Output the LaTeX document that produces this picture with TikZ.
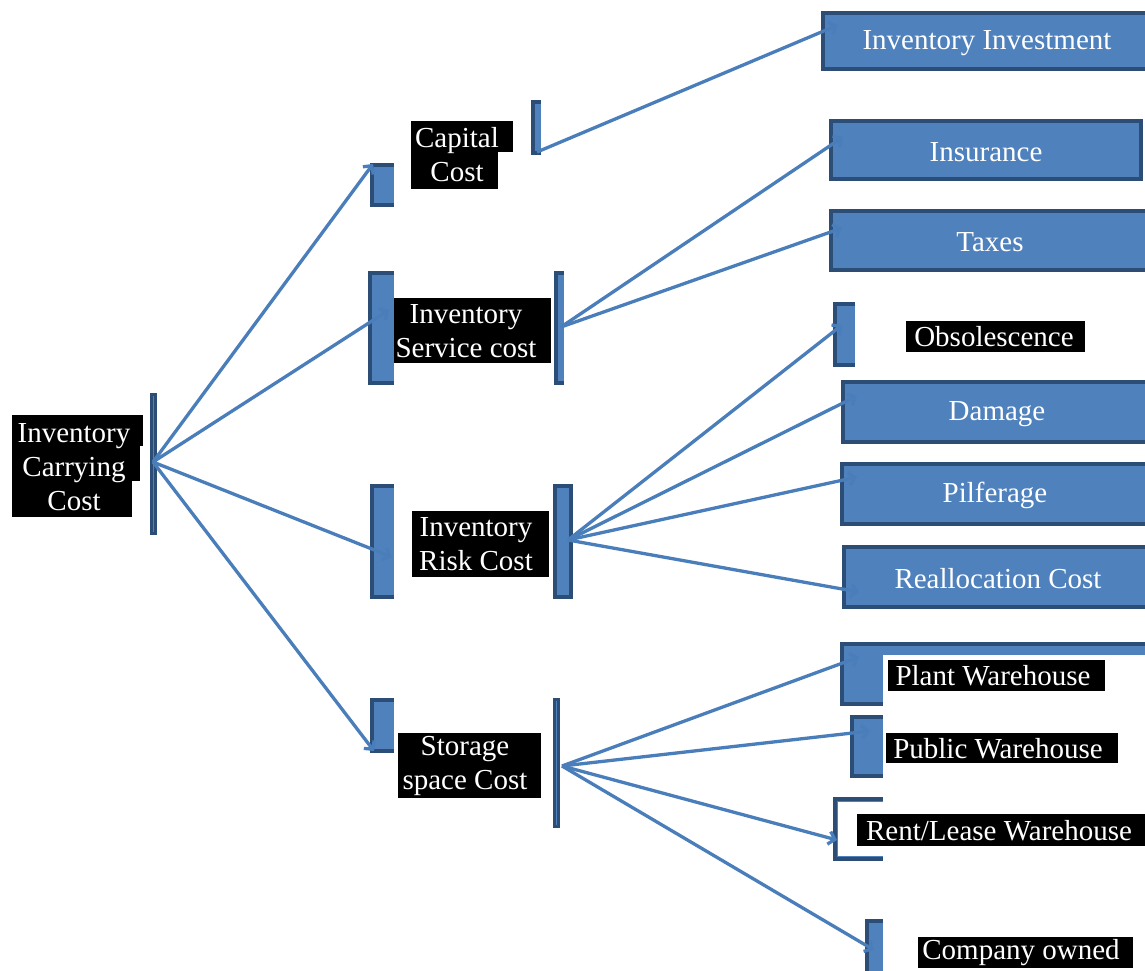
\documentclass[tikz,border=0pt]{standalone}
\usepackage{fontspec}
\setmainfont{Liberation Serif}
\usetikzlibrary{arrows.meta}
\definecolor{boxblue}{HTML}{4F81BD}
\definecolor{boxdark}{HTML}{2C4D75}
\definecolor{lineblue}{HTML}{4A7EBB}
\tikzset{
  bluefill/.style={fill=boxblue},
  darkedge/.style={draw=boxdark, line width=4pt},
  hlfill/.style={fill=black},
  lbl/.style={text=white, inner sep=0pt, align=center, font=\fontsize{29}{34}\selectfont},
  conn/.style={draw=lineblue, line width=3.3pt, -{Straight Barb[length=6pt,width=13pt]}},
}
\begin{document}
\begin{tikzpicture}[x=1pt,y=-1pt]
\clip (0,0) rectangle (1145,971);
\fill[white] (0,0) rectangle (1145,971);

% ---------- root ----------
\draw[fill=boxblue, draw=boxdark, line width=3pt] (151.5,394.5) rectangle (155.5,533.5);
\fill[hlfill] (12,415) rectangle (143,446);
\fill[hlfill] (12,446) rectangle (140,481);
\fill[hlfill] (12,481) rectangle (132,517);
\node[lbl] (root) at (74,467) {Inventory\\Carrying\\Cost};

% ---------- capital cost ----------
\fill[bluefill] (370,163) rectangle (394,207);
\draw[darkedge] (394,165) -- (372,165) -- (372,205) -- (394,205);
\fill[bluefill] (531,100) rectangle (541,155);
\draw[darkedge] (541,102) -- (533,102) -- (533,153) -- (541,153);
\fill[hlfill] (411,121) rectangle (513,152);
\fill[hlfill] (411,152) rectangle (498,189);
\node[lbl] (capital) at (457,155) {Capital\\Cost};

% ---------- inventory service cost ----------
\fill[bluefill] (368,271) rectangle (394,385);
\draw[darkedge] (394,273) -- (370,273) -- (370,383) -- (394,383);
\fill[bluefill] (554,271) rectangle (564,385);
\draw[darkedge] (564,273) -- (556,273) -- (556,383) -- (564,383);
\fill[hlfill] (394,298) rectangle (551,363);
\node[lbl] (service) at (466,331) {Inventory\\Service cost};

% ---------- inventory risk cost ----------
\fill[bluefill] (370,484) rectangle (394,599);
\draw[darkedge] (394,486) -- (372,486) -- (372,597) -- (394,597);
\draw[bluefill, darkedge] (555,486) rectangle (571,597);
\fill[hlfill] (412,511) rectangle (549,577);
\node[lbl] (risk) at (476,544) {Inventory\\Risk Cost};

% ---------- storage space cost ----------
\fill[bluefill] (370,698) rectangle (394,753);
\draw[darkedge] (394,700) -- (372,700) -- (372,751) -- (394,751);
\draw[fill=boxblue, draw=boxdark, line width=3pt] (554.5,699.5) rectangle (558.5,826.5);
\fill[hlfill] (398,733) rectangle (541,798);
\node[lbl] (storage) at (465,766) {Storage\\space Cost};

% ---------- level 2 boxes ----------
\draw[bluefill, darkedge] (823,13) rectangle (1150,69);
\node[lbl] (invest) at (987,43) {Inventory Investment};

\draw[bluefill, darkedge] (831,121) rectangle (1141,179);
\node[lbl] (insurance) at (986,152) {Insurance};

\draw[bluefill, darkedge] (831,211) rectangle (1150,270);
\node[lbl] (taxes) at (990,242) {Taxes};

\fill[bluefill] (833,302) rectangle (855,367);
\draw[darkedge] (855,304) -- (835,304) -- (835,365) -- (855,365);
\fill[hlfill] (906,321) rectangle (1085,352);
\node[lbl] (obsol) at (994,337) {Obsolescence};

\draw[bluefill, darkedge] (843,382) rectangle (1150,442);
\node[lbl] (damage) at (997,414) {Damage};

\draw[bluefill, darkedge] (842,464) rectangle (1150,524);
\node[lbl] (pilfer) at (995,495) {Pilferage};

\draw[bluefill, darkedge] (844,547) rectangle (1150,607);
\node[lbl] (realloc) at (998,579) {Reallocation Cost};

\draw[bluefill, darkedge] (842,644) rectangle (1150,704);
\fill[white] (883,655) rectangle (1150,713);
\fill[hlfill] (888,660) rectangle (1105,691);
\node[lbl] (plant) at (993,676) {Plant Warehouse};

\fill[bluefill] (850,715) rectangle (883,778);
\draw[darkedge] (883,717) -- (852,717) -- (852,776) -- (883,776);
\fill[hlfill] (886,733) rectangle (1118,763);
\node[lbl] (public) at (998,749) {Public Warehouse};

\draw[darkedge] (883,799) -- (835,799) -- (835,859) -- (883,859);
\draw[draw=boxblue, line width=1pt] (883,801.5) -- (837.5,801.5) -- (837.5,856.5) -- (883,856.5);
\fill[hlfill] (857,814) rectangle (1145,846);
\node[lbl] (rent) at (999,831) {Rent/Lease Warehouse};

\fill[bluefill] (865,919) rectangle (883,975);
\draw[darkedge] (883,921) -- (867,921) -- (867,975);
\fill[hlfill] (918,937) rectangle (1133,968);
\node[lbl] (company) at (1021,953) {Company owned};

% ---------- connector end points ----------
\coordinate (hubRoot) at (153,462);
\coordinate (hubCap) at (537,152);
\coordinate (hubServ) at (561,327);
\coordinate (hubRisk) at (568,540);
\coordinate (hubStor) at (562,766);
\coordinate (inCap) at (373,164);
\coordinate (inServ) at (389,310);
\coordinate (inRisk) at (392,557);
\coordinate (inStor) at (374,751);
\coordinate (inInvest) at (838,25);
\coordinate (inInsur) at (843,137);
\coordinate (inTaxes) at (842,228);
\coordinate (inObsol) at (842,325);
\coordinate (inDamage) at (857,396);
\coordinate (inPilfer) at (857,477);
\coordinate (inRealloc) at (859,592);
\coordinate (inPlant) at (859,657);
\coordinate (inPublic) at (870,731);
\coordinate (inRent) at (837,840);
\coordinate (inCompany) at (874,950);

% ---------- connectors ----------
\draw[conn] (hubRoot) -- (inCap);
\draw[conn] (hubRoot) -- (inServ);
\draw[conn] (hubRoot) -- (inRisk);
\draw[conn] (hubRoot) -- (inStor);
\draw[conn] (hubCap) -- (inInvest);
\draw[conn] (hubServ) -- (inInsur);
\draw[conn] (hubServ) -- (inTaxes);
\draw[conn] (hubRisk) -- (inObsol);
\draw[conn] (hubRisk) -- (inDamage);
\draw[conn] (hubRisk) -- (inPilfer);
\draw[conn] (hubRisk) -- (inRealloc);
\draw[conn] (hubStor) -- (inPlant);
\draw[conn] (hubStor) -- (inPublic);
\draw[conn] (hubStor) -- (inRent);
\draw[conn] (hubStor) -- (inCompany);
\end{tikzpicture}
\end{document}
